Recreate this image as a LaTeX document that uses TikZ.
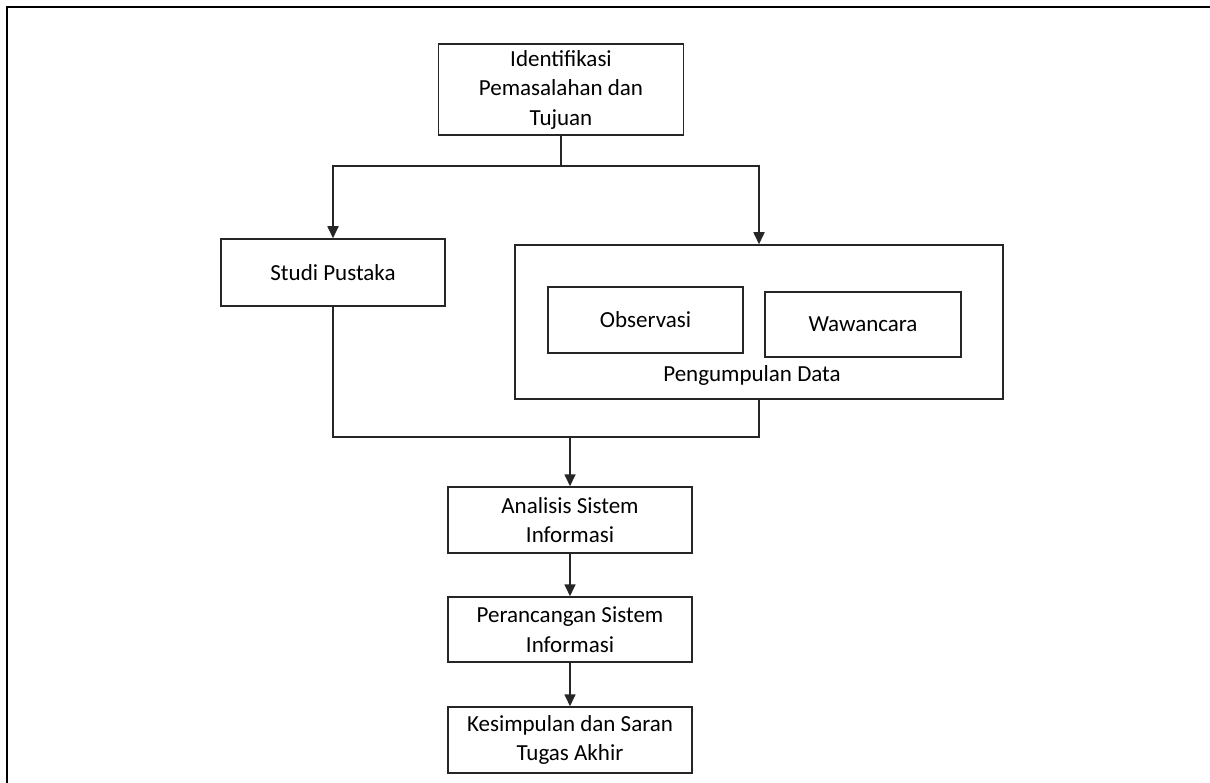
\documentclass[tikz,border=0pt]{standalone}
\usepackage{fontspec}
\setmainfont{Carlito}
\usetikzlibrary{arrows.meta}
\tikzset{
  box/.style={draw=black!85, line width=1.5pt, rectangle, inner sep=0pt, align=center,
    font=\fontsize{23}{29.5}\selectfont},
  conn/.style={draw=black!85, line width=1.7pt},
  arr/.style={conn, -{Triangle[width=11pt,length=12pt]}},
}
\begin{document}
\begin{tikzpicture}[x=1pt,y=-1pt]
\useasboundingbox (0,0) rectangle (1210,783);
\draw[line width=2pt] (7,783) -- (7,7) -- (1210,7);

\node[box, minimum width=245pt, minimum height=91pt] (ident) at (561,89.5)
  {Identifikasi\\Pemasalahan dan\\Tujuan};
\node[box, minimum width=224pt, minimum height=67pt] (studi) at (333,272.5) {Studi Pustaka};
\node[box, minimum width=488pt, minimum height=154pt] (outer) at (759,322) {};
\node[box, minimum width=195pt, minimum height=66pt] (obs) at (645.5,320) {Observasi};
\node[box, minimum width=196pt, minimum height=65pt] (waw) at (863,324.5) {Wawancara};
\node[font=\fontsize{23}{29.5}\selectfont, inner sep=0pt] (pd) at (752,375) {Pengumpulan Data};
\node[box, minimum width=244pt, minimum height=66pt] (anal) at (570,520) {Analisis Sistem\\Informasi};
\node[box, minimum width=244pt, minimum height=65pt] (peran) at (570,629.5) {Perancangan Sistem\\Informasi};
\node[box, minimum width=244pt, minimum height=66pt] (kes) at (570,740) {Kesimpulan dan Saran\\Tugas Akhir};

\coordinate (j1) at (ident.south |- 0,166);
\coordinate (m) at (570,437);

\draw[conn] (ident.south) -- (j1);
\draw[arr] (j1) -| (studi.north);
\draw[arr] (j1) -| (outer.north);
\draw[conn] (studi.south) |- (m);
\draw[conn] (outer.south) |- (m);
\draw[arr] (m) -- (anal.north);
\draw[arr] (anal.south) -- (peran.north);
\draw[arr] (peran.south) -- (kes.north);
\end{tikzpicture}
\end{document}
